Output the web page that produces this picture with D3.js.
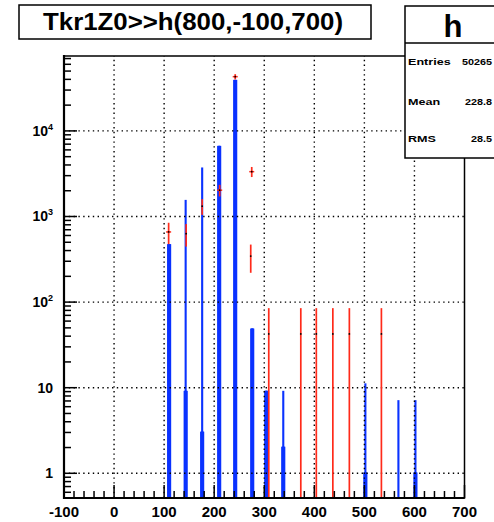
<!DOCTYPE html>
<html><head><meta charset="utf-8">
<script src="https://cdn.jsdelivr.net/npm/d3@7/dist/d3.min.js"></script>
<style>
body{margin:0;background:#fff}
svg{display:block}
text{font-family:"Liberation Sans",Arial,Helvetica,sans-serif;font-weight:bold;fill:#000}
</style>
</head><body>
<svg id="c" width="494" height="522"></svg>
<script>
// ---- data ----
const titleText = "Tkr1Z0>>h(800,-100,700)";
const statsName = "h";
const statsLabels = ["Entries", "Mean", "RMS"];
const statsValues = ["50265", "228.8", "28.5"];
const xTickValues = [-100, 0, 100, 200, 300, 400, 500, 600, 700];
const yTickValues = [1, 10, 100, 1000, 10000];

// blue histogram (bin centre, content) - bins of width 1
const blueBinX = [108,109,110,111,112,
                  141,142,143,144,145,
                  174,175,176,177,178,
                  208,209,210,211,212,
                  240,241,242,243,244,
                  274,275,276,277,278,
                  302,303,304,305,306,
                  336,337,338,339,340,
                  500,501,502,503,504,
                  568,
                  600,601,602,603,604];
const blueBinCount = [465,465,465,465,465,
                      9,9,1530,9,9,
                      3,3,3660,3,3,
                      6540,6540,6540,6540,6540,
                      38600,38600,38600,38600,38600,
                      48,48,48,48,48,
                      9,9,9,9,9,
                      2,2,9,2,2,
                      1,1,11,1,1,
                      7,
                      1,1,7,1,1];

// red histogram drawn with error bars
const redX    = [109, 144, 176, 211, 242, 275, 273, 309, 373, 404, 437, 470, 534];
const redY    = [660, 630, 1320, 2030, 43000, 3340, 345, 42.5, 42.5, 42.5, 42.5, 42.5, 42.5];
const redErr  = [185, 185, 275, 315, 3000, 450, 125, 42.5, 42.5, 42.5, 42.5, 42.5, 42.5];
const redXErr = [5, 0, 0, 5, 5, 5, 0, 0, 0, 0, 0, 0, 0];

// ---- layout ----
const svg = d3.select("#c");
const L = 64, R = 464.5, T = 56, B = 498;
const yMin = Math.pow(10, -0.2886), yMax = Math.pow(10, 4.875);
const x = d3.scaleLinear().domain([-100, 700]).range([L, R]);
const y = d3.scaleLog().domain([yMin, yMax]).range([B, T]);
const blue = "#0a32ff", red = "#ff2a1a";

const plot = svg.append("g");

// blue bins
plot.selectAll("rect.bin").data(blueBinX.map((b, i) => ({b, c: blueBinCount[i]})))
  .enter().append("rect").attr("class", "bin")
  .attr("x", d => x(d.b - 0.5))
  .attr("width", d => x(d.b + 0.5) - x(d.b - 0.5))
  .attr("y", d => y(d.c))
  .attr("height", d => B - y(d.c))
  .attr("fill", blue).attr("stroke", blue).attr("stroke-width", 1.6);

// grid
const grid = svg.append("g").attr("stroke", "#000").attr("stroke-width", 1.4)
  .attr("stroke-dasharray", "1.4 3.4");
grid.selectAll("line.gx").data(xTickValues.filter(v => v > -100 && v < 700))
  .enter().append("line")
  .attr("x1", d => x(d)).attr("x2", d => x(d)).attr("y1", B).attr("y2", T);
grid.selectAll("line.gy").data(yTickValues)
  .enter().append("line")
  .attr("x1", L).attr("x2", R).attr("y1", d => y(d)).attr("y2", d => y(d));

// red error bars
const rd = redX.map((v, i) => ({x: v, y: redY[i], e: redErr[i], xe: redXErr[i]}));
const rg = svg.append("g");
rg.selectAll("line.ev").data(rd).enter().append("line")
  .attr("x1", d => x(d.x)).attr("x2", d => x(d.x))
  .attr("y1", d => y(d.y + d.e))
  .attr("y2", d => y(Math.max(d.y - d.e, yMin)))
  .attr("stroke", red).attr("stroke-width", 1.7);
rg.selectAll("line.eh").data(rd.filter(d => d.xe > 0)).enter().append("line")
  .attr("x1", d => x(d.x - d.xe)).attr("x2", d => x(d.x + d.xe))
  .attr("y1", d => y(d.y)).attr("y2", d => y(d.y))
  .attr("stroke", red).attr("stroke-width", 1.5);
rg.selectAll("circle").data(rd).enter().append("circle")
  .attr("cx", d => x(d.x)).attr("cy", d => y(d.y)).attr("r", 0.9).attr("fill", "#000");

// frame
svg.append("rect").attr("x", L).attr("y", T).attr("width", R - L).attr("height", B - T)
  .attr("fill", "none").attr("stroke", "#000").attr("stroke-width", 1.5);
svg.append("line").attr("x1", L).attr("x2", L).attr("y1", T - 1).attr("y2", B + 1)
  .attr("stroke", "#000").attr("stroke-width", 2.2);
svg.append("line").attr("x1", L - 1).attr("x2", R).attr("y1", B).attr("y2", B)
  .attr("stroke", "#000").attr("stroke-width", 2.2);

// x ticks
const xMinor = d3.range(-100, 701, 20).filter(v => v % 100 !== 0);
const ax = svg.append("g").attr("stroke", "#000").attr("stroke-width", 1.5);
ax.selectAll("line.M").data(xTickValues).enter().append("line")
  .attr("x1", d => x(d)).attr("x2", d => x(d)).attr("y1", B).attr("y2", B - 13);
ax.selectAll("line.m").data(xMinor).enter().append("line")
  .attr("x1", d => x(d)).attr("x2", d => x(d)).attr("y1", B).attr("y2", B - 7);

// y ticks
const yMinor = [];
for (let p = -1; p <= 4; p++) for (let m = 2; m <= 9; m++) {
  const v = m * Math.pow(10, p);
  if (v > yMin && v < yMax) yMinor.push(v);
}
ax.selectAll("line.yM").data(yTickValues).enter().append("line")
  .attr("x1", L).attr("x2", L + 13).attr("y1", d => y(d)).attr("y2", d => y(d));
ax.selectAll("line.ym").data(yMinor).enter().append("line")
  .attr("x1", L).attr("x2", L + 7).attr("y1", d => y(d)).attr("y2", d => y(d));

// x labels
svg.selectAll("text.xl").data(xTickValues).enter().append("text")
  .attr("x", d => x(d)).attr("y", 517).attr("text-anchor", "middle")
  .attr("font-size", 15).text(d => d);

// y labels
yTickValues.forEach(v => {
  const p = Math.round(Math.log10(v));
  const t = svg.append("text").attr("x", 53).attr("y", y(v) + 5)
    .attr("text-anchor", "end").attr("font-size", 14);
  if (p <= 1) t.text(v);
  else {
    t.append("tspan").text("10");
    t.append("tspan").attr("dy", -6).attr("font-size", 9).text(p);
  }
});

// title box
svg.append("rect").attr("x", 19).attr("y", 5).attr("width", 352).attr("height", 34)
  .attr("fill", "#fff").attr("stroke", "#000").attr("stroke-width", 1.5);
svg.append("text").attr("x", 193).attr("y", 29.5).attr("text-anchor", "middle")
  .attr("font-size", 24).attr("textLength", 300).attr("lengthAdjust", "spacingAndGlyphs")
  .text(titleText);

// stats box
svg.append("rect").attr("x", 405).attr("y", 6).attr("width", 110).attr("height", 152)
  .attr("fill", "#fff").attr("stroke", "#000").attr("stroke-width", 1.5);
svg.append("line").attr("x1", 405).attr("x2", 494).attr("y1", 43).attr("y2", 43)
  .attr("stroke", "#000").attr("stroke-width", 1.5);
svg.append("text").attr("x", 453).attr("y", 36.5).attr("text-anchor", "middle")
  .attr("font-size", 31).text(statsName);
const rowsY = [64.5, 104.5, 141.5];
statsLabels.forEach((s, i) => {
  svg.append("g").attr("transform", `translate(408,${rowsY[i]}) scale(1.4,1)`)
    .append("text").attr("font-size", 9).text(s);
  svg.append("g").attr("transform", `translate(492,${rowsY[i]}) scale(1.2,1)`)
    .append("text").attr("font-size", 9).attr("text-anchor", "end").text(statsValues[i]);
});
</script>
</body></html>
